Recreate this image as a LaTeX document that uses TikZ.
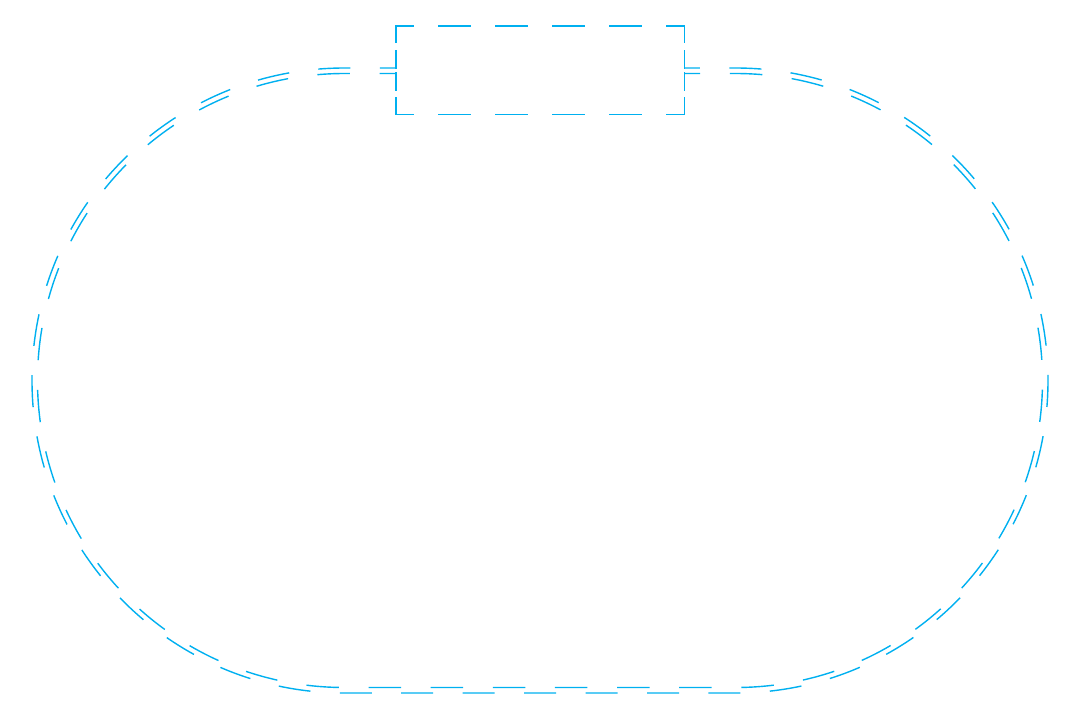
\documentclass[tikz,border=0pt]{standalone}
\usepackage{tikz}
\definecolor{ringblue}{RGB}{0,176,240}

\begin{document}
\begin{tikzpicture}[x=1pt,y=1pt,
	box/.style={rectangle,minimum width=288pt,minimum height=88pt,inner sep=0pt},
	boxtop/.style={draw=ringblue,line width=1.4pt,line cap=rect,dash pattern=on 31pt off 26pt,dash phase=14pt},
	boxside/.style={draw=ringblue,line width=1.4pt,line cap=rect,dash pattern=on 16pt off 9pt on 17pt off 5pt on 17pt off 8pt on 16pt off 10pt},
	ringout/.style={draw=ringblue,line width=1.4pt,dash pattern=on 32pt off 29.44pt,dash phase=16pt},
	ringin/.style={draw=ringblue,line width=1.4pt,dash pattern=on 32.5pt off 29.63pt,dash phase=16.25pt}]
	\useasboundingbox (0,0) rectangle (1080,-720);
	% the box on top
	\node[box] (ctrl) at (540,-70) {};
	\draw[boxtop] (ctrl.north west) -- (ctrl.north east);
	\draw[boxtop] (ctrl.south west) -- (ctrl.south east);
	\draw[boxside] (ctrl.north west) -- (ctrl.south west);
	\draw[boxside] (ctrl.north east) -- (ctrl.south east);
	% the ring, outer and inner line
	\draw[ringout] ([yshift=2pt]ctrl.west) -- (344.5,-68)
		arc[start angle=90,end angle=270,radius=312.5] -- (735.5,-693)
		arc[start angle=-90,end angle=90,radius=312.5] -- ([yshift=2pt]ctrl.east);
	\draw[ringin] ([yshift=-3.5pt]ctrl.west) -- (344.5,-73.5)
		arc[start angle=90,end angle=270,radius=307] -- (735.5,-687.5)
		arc[start angle=-90,end angle=90,radius=307] -- ([yshift=-3.5pt]ctrl.east);
\end{tikzpicture}
\end{document}
